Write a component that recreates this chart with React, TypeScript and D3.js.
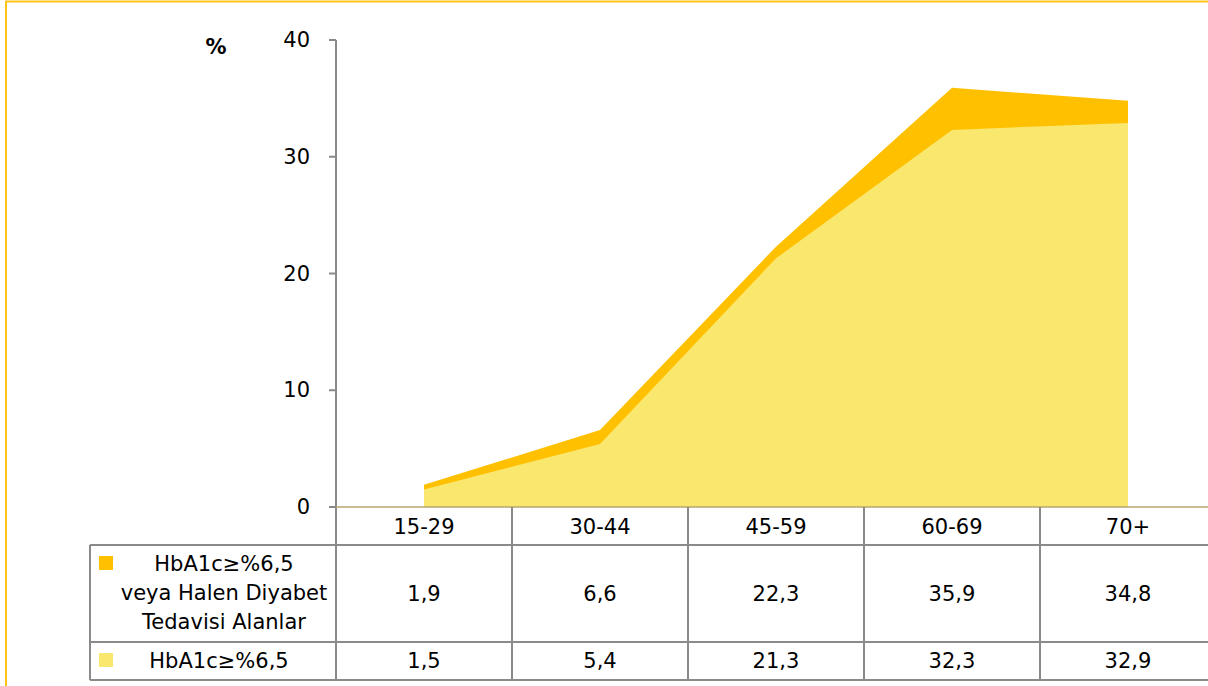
import React from "react";
import * as d3 from "d3";

const categories = ["15-29", "30-44", "45-59", "60-69", "70+"];
const seriesTotal = [1.9, 6.6, 22.3, 35.9, 34.8];
const seriesHbA1c = [1.5, 5.4, 21.3, 32.3, 32.9];
const valueLabelsTotal = ["1,9", "6,6", "22,3", "35,9", "34,8"];
const valueLabelsHbA1c = ["1,5", "5,4", "21,3", "32,3", "32,9"];
const yTicks = [0, 10, 20, 30, 40];
const legendTotal = ["HbA1c≥%6,5", "veya Halen Diyabet", "Tedavisi Alanlar"];
const legendHbA1c = "HbA1c≥%6,5";

const W = 1208;
const H = 686;
const FONT = "'DejaVu Sans', Verdana, sans-serif";
const FS = 21;
const ORANGE = "#FFC000";
const YELLOW = "#FAE76E";
const GRID = "#8a8a8a";

export default function App() {
  const x = d3.scaleBand<string>().domain(categories).range([336, 1216]).padding(0);
  const y = d3.scaleLinear().domain([0, 40]).range([507, 40]);
  const cx = (c: string) => (x(c) as number) + x.bandwidth() / 2;

  const area = d3
    .area<number>()
    .x((_, i) => cx(categories[i]))
    .y0(y(0))
    .y1((d) => y(d));

  const rowTop = 507;
  const row1 = 545;
  const row2 = 642;
  const row3 = 680;
  const tableLeft = 90;

  return (
    <svg
      width={W}
      height={H}
      style={{ position: "absolute", left: 0, top: 0, background: "#fff" }}
      fontFamily={FONT}
    >
      {/* outer border */}
      <path d={`M6,${H + 5} V1.5 H${W + 5}`} fill="none" stroke="#FFC21A" strokeWidth={2} />

      {/* areas */}
      <path d={area(seriesTotal) || ""} fill={ORANGE} />
      <path d={area(seriesHbA1c) || ""} fill={YELLOW} />

      {/* y axis */}
      <line x1={336} x2={336} y1={y(40)} y2={row3} stroke={GRID} strokeWidth={2} />
      {yTicks.map((t) => (
        <g key={t}>
          <line x1={329} x2={336} y1={y(t)} y2={y(t)} stroke={GRID} strokeWidth={2} />
          <text x={310} y={y(t)} textAnchor="end" dominantBaseline="central" fontSize={FS} fill="#000">
            {t}
          </text>
        </g>
      ))}
      <line x1={336} x2={W + 5} y1={y(0)} y2={y(0)} stroke="#B9A66E" strokeWidth={1.5} />
      <text x={216} y={54} textAnchor="middle" fontSize={21} fontWeight="bold" fill="#000">
        %
      </text>

      {/* table grid */}
      {[row1, row2, row3].map((ry) => (
        <line key={ry} x1={tableLeft} x2={W + 5} y1={ry} y2={ry} stroke={GRID} strokeWidth={2} />
      ))}
      <line x1={tableLeft} x2={tableLeft} y1={row1} y2={row3} stroke={GRID} strokeWidth={2} />
      {categories.slice(1).map((c) => (
        <line key={c} x1={x(c) as number} x2={x(c) as number} y1={rowTop} y2={row3} stroke={GRID} strokeWidth={2} />
      ))}

      {/* header labels */}
      {categories.map((c) => (
        <text key={c} x={cx(c)} y={(rowTop + row1) / 2 + 1} textAnchor="middle" dominantBaseline="central" fontSize={FS} fill="#000">
          {c}
        </text>
      ))}

      {/* row 1 */}
      <rect x={99} y={556} width={14} height={14} fill={ORANGE} />
      {legendTotal.map((s, i) => (
        <text key={s} x={224} y={564 + i * 29} textAnchor="middle" dominantBaseline="central" fontSize={FS} fill="#000">
          {s}
        </text>
      ))}
      {valueLabelsTotal.map((v, i) => (
        <text key={i} x={cx(categories[i])} y={(row1 + row2) / 2} textAnchor="middle" dominantBaseline="central" fontSize={FS} fill="#000">
          {v}
        </text>
      ))}

      {/* row 2 */}
      <rect x={99} y={653} width={14} height={14} fill={YELLOW} />
      <text x={219} y={(row2 + row3) / 2} textAnchor="middle" dominantBaseline="central" fontSize={FS} fill="#000">
        {legendHbA1c}
      </text>
      {valueLabelsHbA1c.map((v, i) => (
        <text key={i} x={cx(categories[i])} y={(row2 + row3) / 2} textAnchor="middle" dominantBaseline="central" fontSize={FS} fill="#000">
          {v}
        </text>
      ))}
    </svg>
  );
}
